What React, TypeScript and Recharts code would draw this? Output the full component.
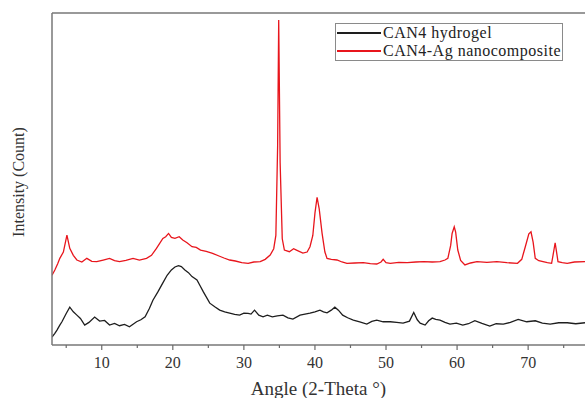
import React from 'react';
import { LineChart, Line, XAxis, YAxis, ReferenceLine } from 'recharts';

// [2-theta, intensity], arbitrary units (0-100)
const hydrogelPattern: [number, number][] = [
	[3, 2.4], [3.4, 3.5], [3.7, 4.5], [4.1, 6], [4.4, 7], [5.0, 9.5], [5.5, 11.4], [6.0, 10], [6.5, 9],
	[7.0, 8], [7.6, 6], [8.2, 6.8], [9.0, 8.4], [9.7, 7.2], [10.4, 7.4], [11.1, 6], [11.8, 6.5], [12.5, 5.8],
	[13.2, 6.2], [13.9, 5.5], [14.9, 7], [15.5, 7.6], [16.1, 8.5], [16.7, 11], [17.2, 13.5], [17.9, 16],
	[18.6, 18.7], [19.2, 21], [19.8, 22.6], [20.3, 23.5], [20.8, 23.9], [21.2, 23.6], [21.7, 22.6],
	[22.2, 21.8], [22.7, 20.6], [23.4, 19.6], [23.8, 18], [24.3, 16], [25.2, 12.6], [25.9, 11.5],
	[26.6, 10.5], [27.3, 10], [28, 9.6], [28.7, 9.2], [29.4, 9], [30.0, 9.6], [30.6, 9.5], [31.0, 9.3],
	[31.5, 10.5], [32.1, 9], [32.7, 8.5], [33.3, 9], [34, 8.5], [34.7, 8.8], [35.5, 9], [36.2, 8.2],
	[36.9, 7.8], [37.9, 9], [38.6, 9.3], [39.3, 9.6], [40.0, 10], [40.7, 10.5], [41.2, 10], [41.7, 9.7],
	[42.3, 10.5], [42.8, 11.4], [43.3, 10.5], [43.9, 9], [44.6, 8.2], [45.4, 7.5], [46.3, 7], [47.3, 6.3],
	[48.0, 7.1], [48.7, 7.5], [49.6, 7], [50.6, 7], [51.5, 6.8], [52.4, 6.6], [53.3, 7.2], [53.9, 9.8],
	[54.4, 7.6], [54.8, 6.6], [55.5, 6], [56.0, 7.3], [56.5, 8.1], [57.0, 7.7], [57.6, 7.5], [58.3, 6.8],
	[59, 6.3], [59.9, 6.6], [60.8, 6], [61.6, 6.4], [62.5, 7.3], [63.5, 6.5], [64.6, 5.7], [65.5, 6.4],
	[66.5, 6.3], [67.5, 6.8], [68.6, 7.7], [69.8, 7], [71, 7.3], [72, 6.6], [73.1, 6.3], [74.3, 6.7],
	[75.5, 6.7], [76.7, 6.4], [78, 6.7],
];

const nanocompositePattern: [number, number][] = [
	[3, 21], [3.4, 22.6], [3.8, 24.5], [4.1, 26.1], [4.6, 28], [5.1, 33.1], [5.5, 29.1], [6.0, 27],
	[6.5, 25.6], [7.2, 25], [7.9, 26.1], [8.6, 25.2], [9.3, 25.1], [10.2, 25.6], [11.1, 26.1], [11.8, 25.4],
	[12.5, 25.1], [13.4, 25.5], [14.4, 26.1], [15.3, 25.6], [16.3, 26.1], [17.0, 27], [17.7, 29.1],
	[18.6, 32.1], [19.0, 32.6], [19.4, 33.6], [19.8, 32.4], [20.3, 32.1], [20.9, 32.6], [21.4, 31.6],
	[22.0, 30.8], [22.7, 29.6], [23.3, 29.4], [23.9, 28.6], [24.7, 28.2], [25.6, 27.6], [26.5, 26.8],
	[27.2, 26.2], [28, 25.6], [28.8, 25.3], [29.7, 24.8], [30.6, 24.6], [31.4, 25], [32.3, 25.1],
	[33.0, 25.8], [33.7, 27.1], [34.2, 29], [34.5, 33], [34.75, 60], [34.9, 97.9], [35.1, 55], [35.4, 32],
	[35.7, 28.6], [36.4, 28.1], [37.0, 29], [37.4, 28.6], [38.3, 27.7], [38.9, 28], [39.3, 29.6], [39.7, 33],
	[40.0, 39.7], [40.3, 44.5], [40.6, 41], [41.0, 33.7], [41.4, 28], [41.7, 26.1], [42.3, 25.8],
	[43.1, 25.6], [43.8, 25], [44.5, 24.6], [45.6, 24.7], [46.8, 24.8], [47.8, 24.5], [48.7, 24.4],
	[49.3, 25], [49.6, 25.8], [50.0, 24.8], [50.6, 24.6], [51.8, 24.9], [53, 24.8], [54.2, 25], [55.3, 25.1],
	[56.5, 25], [57.6, 25.1], [58.3, 25.6], [58.7, 26.1], [59.1, 30], [59.3, 33.6], [59.6, 35.6], [59.8, 34],
	[60.1, 28.6], [60.5, 25.5], [61.1, 24.1], [61.9, 24.7], [62.8, 25.1], [64.2, 24.9], [65.6, 25.1],
	[67, 24.8], [68.5, 24.6], [69.1, 25.8], [69.6, 29.6], [70.1, 33.5], [70.4, 34.1], [70.7, 31], [71, 26.1],
	[71.5, 25.4], [72.1, 25.1], [72.7, 24.8], [73.3, 24.6], [73.5, 27], [73.8, 30.8], [74.0, 28],
	[74.2, 25.1], [74.8, 24.8], [75.5, 24.6], [76.5, 25], [78, 25.1],
];

const angleTicks = [5, 10, 15, 20, 25, 30, 35, 40, 45, 50, 55, 60, 65, 70, 75];

const seriesNames = ['CAN4 hydrogel', 'CAN4-Ag nanocomposite'];
const seriesColors = ['#1e1e1e', '#e8151c'];

const FONT = '"Liberation Serif", "Times New Roman", serif';

const toRows = (pts: [number, number][]) => pts.map(([angle, count]) => ({ angle, count }));

const AngleTick = (props: any) => {
	const { x, y, payload } = props;
	const major = payload.value % 10 === 0;
	return (
		<g>
			<line x1={x} x2={x} y1={y} y2={y + (major ? 5 : 3)} stroke="#6a6a6a" strokeWidth={1.2} />
			{major && (
				<text x={x} y={y + 23} textAnchor="middle" fontSize={16} fontFamily={FONT} fill="#333">
					{payload.value}
				</text>
			)}
		</g>
	);
};

// drawn as an overlay so it takes no room from the plot
const LegendBox = () => (
	<div
		style={{
			position: 'absolute',
			left: 335,
			top: 23,
			border: '1px solid #8a8a8a',
			background: '#fff',
			padding: '0px 1px 0px 1px',
			fontFamily: FONT,
			fontSize: 16,
			letterSpacing: 0.5,
			lineHeight: '18px',
			color: '#222',
		}}
	>
		{seriesNames.map((name, i) => (
			<div key={name} style={{ display: 'flex', alignItems: 'center', whiteSpace: 'nowrap', height: 18 }}>
				<span style={{ display: 'inline-block', width: 44, height: 1.3, background: seriesColors[i], marginRight: 2 }} />
				{name}
			</div>
		))}
	</div>
);

const YTitle = () => {
	const cx = 18;
	const cy = 182;
	return (
		<text
			x={cx}
			y={cy}
			transform={`rotate(-90, ${cx}, ${cy})`}
			textAnchor="middle"
			dominantBaseline="central"
			fontSize={16}
			fontFamily={FONT}
			fill="#333"
		>
			Intensity (Count)
		</text>
	);
};

export default function App() {
	return (
		<div style={{ position: 'absolute', left: 0, top: 0, width: 585, height: 398, background: '#fff' }}>
			<LineChart width={585} height={398} margin={{ top: 13, right: 0, left: 0, bottom: 0 }}>
				<XAxis
					dataKey="angle"
					type="number"
					domain={[3, 78]}
					allowDataOverflow
					ticks={angleTicks}
					interval={0}
					tick={<AngleTick />}
					tickLine={false}
					tickSize={0}
					tickMargin={0}
					height={53}
					stroke="#777"
					strokeWidth={1.5}
					label={{ value: 'Angle (2-Theta °)', position: 'insideBottom', offset: 3, fontSize: 19, fontFamily: FONT, fill: '#333' }}
				/>
				<YAxis
					type="number"
					domain={[0, 100]}
					allowDataOverflow
					tick={false}
					tickLine={false}
					width={52}
					stroke="#777"
					strokeWidth={1.5}
					label={{ content: <YTitle /> }}
				/>
				<ReferenceLine y={100} stroke="#777" strokeWidth={1.5} />
				<Line
					data={toRows(hydrogelPattern)}
					dataKey="count"
					name={seriesNames[0]}
					stroke={seriesColors[0]}
					strokeWidth={1.3}
					dot={false}
					isAnimationActive={false}
				/>
				<Line
					data={toRows(nanocompositePattern)}
					dataKey="count"
					name={seriesNames[1]}
					stroke={seriesColors[1]}
					strokeWidth={1.3}
					dot={false}
					isAnimationActive={false}
				/>
			</LineChart>
			<LegendBox />
		</div>
	);
}
